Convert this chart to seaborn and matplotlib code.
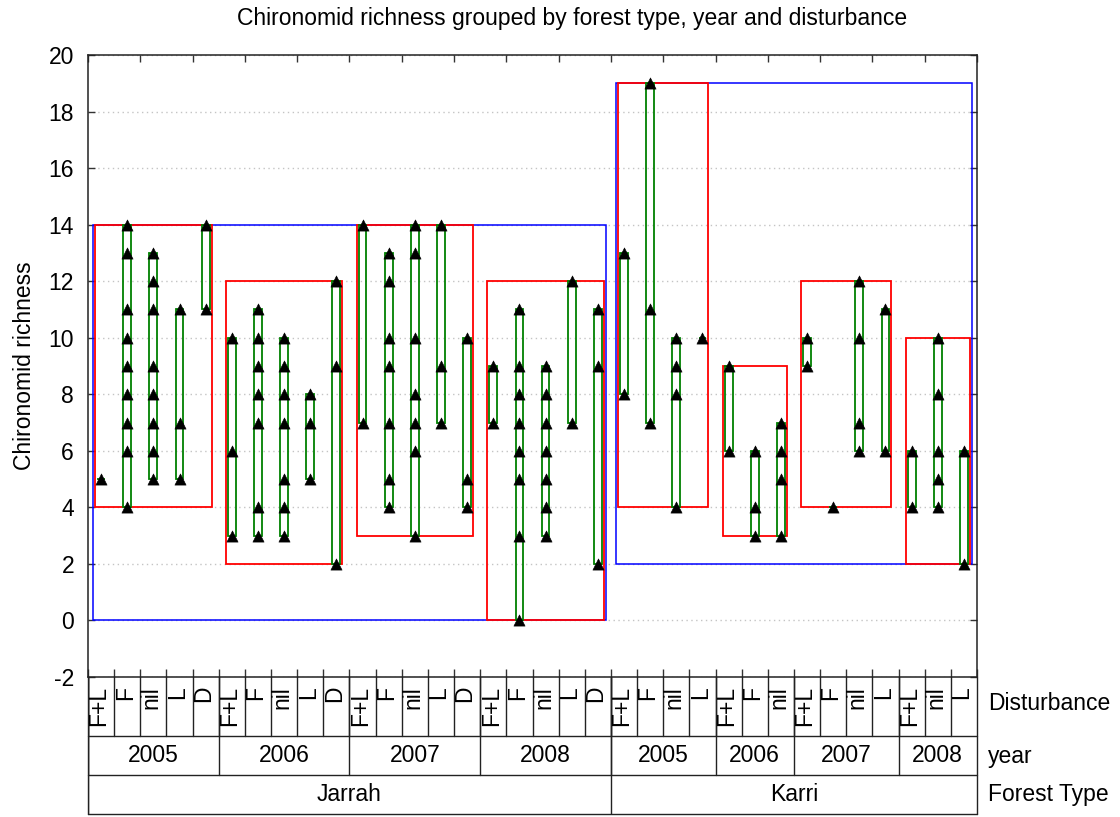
import matplotlib
matplotlib.use("Agg")
import matplotlib.pyplot as plt
from matplotlib.patches import Rectangle
import seaborn as sns
import pandas as pd

# ---------------- data ----------------
forest_types = ["Jarrah", "Karri"]
years = ["2005", "2006", "2007", "2008"]

jarrah_disturbance = {
    "2005": ["F+L", "F", "nil", "L", "D"],
    "2006": ["F+L", "F", "nil", "L", "D"],
    "2007": ["F+L", "F", "nil", "L", "D"],
    "2008": ["F+L", "F", "nil", "L", "D"],
}
karri_disturbance = {
    "2005": ["F+L", "F", "nil", "L"],
    "2006": ["F+L", "F", "nil"],
    "2007": ["F+L", "F", "nil", "L"],
    "2008": ["F+L", "nil", "L"],
}

jarrah_2005 = [[5], [4, 6, 7, 8, 9, 10, 11, 13, 14], [5, 6, 7, 8, 9, 11, 12, 13], [5, 7, 11], [11, 14]]
jarrah_2006 = [[3, 6, 10], [3, 4, 7, 8, 9, 10, 11], [3, 4, 5, 7, 8, 9, 10], [5, 7, 8], [2, 9, 12]]
jarrah_2007 = [[7, 14], [4, 5, 7, 9, 10, 12, 13], [3, 6, 7, 8, 10, 13, 14], [7, 9, 14], [4, 5, 10]]
jarrah_2008 = [[7, 9], [0, 3, 5, 6, 7, 8, 9, 11], [3, 4, 5, 6, 7, 8, 9], [7, 12], [2, 9, 11]]
karri_2005 = [[8, 13], [7, 11, 19], [4, 8, 9, 10], [10]]
karri_2006 = [[6, 9], [3, 4, 6], [3, 5, 6, 7]]
karri_2007 = [[9, 10], [4], [6, 7, 10, 12], [6, 11]]
karri_2008 = [[4, 6], [4, 5, 6, 8, 10], [2, 6]]

values = {
    "Jarrah": {"2005": jarrah_2005, "2006": jarrah_2006, "2007": jarrah_2007, "2008": jarrah_2008},
    "Karri": {"2005": karri_2005, "2006": karri_2006, "2007": karri_2007, "2008": karri_2008},
}
disturbances = {"Jarrah": jarrah_disturbance, "Karri": karri_disturbance}

y_ticks = list(range(-2, 21, 2))

# build long table
rows = []
col = 0
for ft in forest_types:
    for yr in years:
        for dist, vals in zip(disturbances[ft][yr], values[ft][yr]):
            for v in vals:
                rows.append(dict(forest=ft, year=yr, dist=dist, col=col, x=col + 0.5, value=v))
            col += 1
df = pd.DataFrame(rows)
ncols = col

# ---------------- style ----------------
sns.set_theme(style="white")
plt.rcParams["font.family"] = ["Liberation Sans", "DejaVu Sans"]
plt.rcParams["axes.unicode_minus"] = False
plt.rcParams["text.color"] = "black"
plt.rcParams["axes.labelcolor"] = "black"
plt.rcParams["ytick.color"] = "black"
plt.rcParams["xtick.color"] = "black"

FS = 16.5
W, H = 1120, 817
fig = plt.figure(figsize=(W / 100, H / 100), dpi=100)


def fx(px):
    return px / W


def fy(py):
    return 1 - py / H


L, R, T, B = 88, 977, 55, 677
ax = fig.add_axes([fx(L), fy(B), fx(R) - fx(L), fy(T) - fy(B)])

# gridlines
for t in y_ticks:
    ax.axhline(t, color="#c4c4c4", lw=1.0, ls=(0, (1, 2.5)), zorder=0)

# forest-type (blue) rectangles
for ft, g in df.groupby("forest", sort=False):
    c0, c1 = g["col"].min(), g["col"].max() + 1
    lo, hi = g["value"].min(), g["value"].max()
    ax.add_patch(Rectangle((c0 + 0.2, lo), (c1 - c0) - 0.4, hi - lo, fill=False,
                           ec="#0000ff", lw=1.1, zorder=2))

# year (red) rectangles
for (ft, yr), g in df.groupby(["forest", "year"], sort=False):
    c0, c1 = g["col"].min(), g["col"].max() + 1
    lo, hi = g["value"].min(), g["value"].max()
    ax.add_patch(Rectangle((c0 + 0.27, lo), (c1 - c0) - 0.54, hi - lo, fill=False,
                           ec="#ff0000", lw=1.3, zorder=2.2))

# disturbance (green) boxes
for c, g in df.groupby("col"):
    lo, hi = g["value"].min(), g["value"].max()
    ax.add_patch(Rectangle((c + 0.5 - 0.15, lo), 0.3, hi - lo, fill=False,
                           ec="#008000", lw=1.3, zorder=3))

sns.scatterplot(data=df, x="x", y="value", marker="^", s=65, color="black",
                edgecolor="black", linewidth=0.4, ax=ax, zorder=4, legend=False)

ax.set_xlim(0, ncols)
ax.set_ylim(-2, 20)
ax.set_yticks(y_ticks)
ax.set_yticklabels([str(t) for t in y_ticks], fontsize=FS)
ax.set_xticks(range(0, ncols + 1))
ax.set_xticklabels([])
ax.set_xlabel("")
ax.set_ylabel("Chironomid richness", fontsize=FS, labelpad=9)
ax.tick_params(axis="y", direction="in", left=True, right=True, length=5, width=1,
               color="#333333", labelcolor="black", pad=10)
ax.tick_params(axis="x", direction="in", bottom=True, top=False, length=6, width=1,
               color="#333333")
sec = ax.secondary_xaxis("top")
sec.set_xticks(range(0, ncols + 1, 2))
sec.set_xticklabels([])
sec.tick_params(direction="in", length=5, width=1, color="#333333")
sec.spines["top"].set_visible(False)
for s in ax.spines.values():
    s.set_color("#222222")
    s.set_linewidth(1.1)

fig.text(fx(572), fy(19), "Chironomid richness grouped by forest type, year and disturbance",
         ha="center", va="center", fontsize=FS)

# ---------------- category table ----------------
TB = 814
tax = fig.add_axes([fx(L), fy(TB), fx(R) - fx(L), fy(B) - fy(TB)])
tax.set_xlim(0, ncols)
tax.set_ylim(TB - B, 0)
tax.axis("off")
r1, r2, r3 = 59, 98, TB - B
lc = "#222222"
lw = 1.0
tax.plot([0, 0], [0, r3], color=lc, lw=lw, clip_on=False)
tax.plot([ncols, ncols], [0, r3], color=lc, lw=lw, clip_on=False)
tax.plot([0, ncols], [r3, r3], color=lc, lw=lw, clip_on=False)
tax.plot([0, ncols], [r1, r1], color=lc, lw=lw, clip_on=False)
tax.plot([0, ncols], [r2, r2], color=lc, lw=lw, clip_on=False)

# disturbance labels
for c, g in df.groupby("col"):
    tax.plot([c, c], [0, r1], color=lc, lw=lw)
    tax.text(c + 0.42, 9, g["dist"].iloc[0], rotation=90, ha="center", va="top", fontsize=FS)

# year labels
for (ft, yr), g in df.groupby(["forest", "year"], sort=False):
    c0, c1 = g["col"].min(), g["col"].max() + 1
    tax.plot([c0, c0], [0, r2], color=lc, lw=lw)
    tax.text((c0 + c1) / 2, (r1 + r2) / 2, yr, ha="center", va="center", fontsize=FS)

# forest labels
for ft, g in df.groupby("forest", sort=False):
    c0, c1 = g["col"].min(), g["col"].max() + 1
    tax.plot([c0, c0], [0, r3], color=lc, lw=lw)
    tax.text((c0 + c1) / 2, (r2 + r3) / 2, ft, ha="center", va="center", fontsize=FS)

fig.text(fx(988), fy(704), "Disturbance", ha="left", va="center", fontsize=FS)
fig.text(fx(988), fy(757), "year", ha="left", va="center", fontsize=FS)
fig.text(fx(988), fy(795), "Forest Type", ha="left", va="center", fontsize=FS)

fig.savefig("out.png", dpi=100)
